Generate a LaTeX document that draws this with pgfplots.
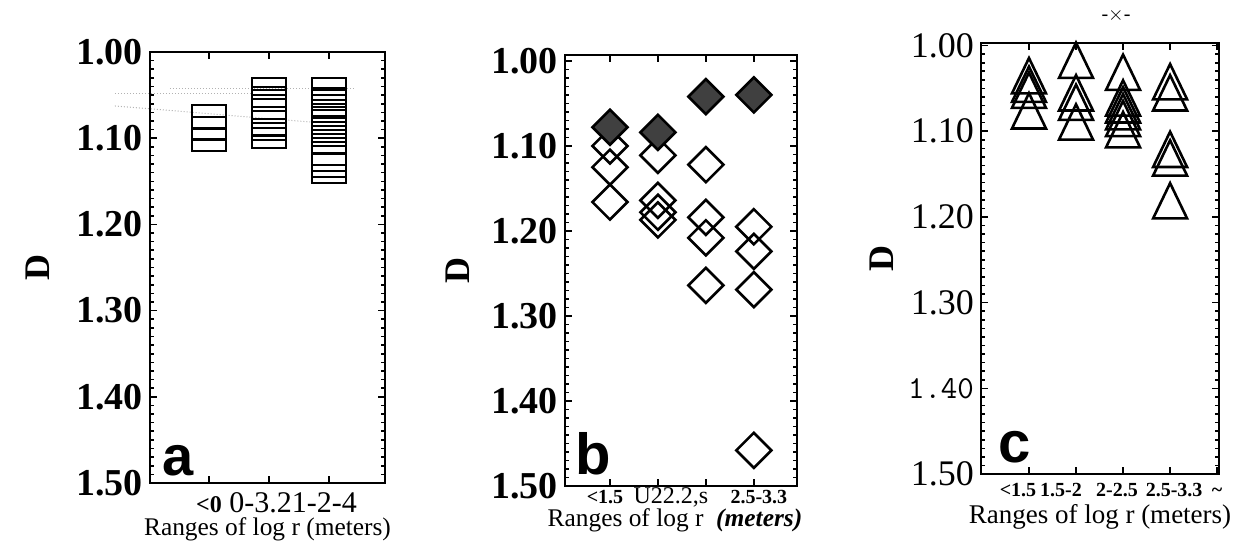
\documentclass[border=0pt]{standalone}
\usepackage{pgfplots}
\pgfplotsset{compat=1.18}
\usepackage{fontspec}
\setmainfont{Liberation Serif}
\newfontfamily\lsans{Liberation Sans}

\pgfplotsset{
  panel/.style={
    scale only axis, y dir=reverse, clip=false,
    ymax=1.50,
    ytick={1.00,1.10,1.20,1.30,1.40,1.50},
    minor y tick num=9,
    major tick length=3.5pt, minor tick length=1.8pt,
    axis line style={line width=1.2pt},
    every tick/.style={black, line width=0.8pt},
    xticklabel style={anchor=base},
    xlabel style={anchor=center},
  },
}
\tikzset{dlab/.style={rotate=90, inner sep=0pt, font=\bfseries\fontsize{18}{18}\selectfont}}

\begin{document}
\begin{tikzpicture}
\useasboundingbox (0,0) rectangle (623.5pt,276.5pt);

% ---------------- panel a ----------------
\begin{axis}[panel,
  at={(75pt,35pt)}, anchor=south west, width=117.5pt, height=215.5pt,
  xmin=0.017, xmax=3.93, ymin=1.00,
  xtick={1,2,3},
  xticklabels={{\bfseries\fontsize{12}{12}\selectfont <0},{\fontsize{15}{15}\selectfont\hspace*{24pt}0-3.21-2-4},{}},
  xticklabel style={yshift=-14.5pt},
  yticklabels={1.00,1.10,1.20,1.30,1.40,1.50},
  yticklabel style={font=\bfseries\fontsize{19}{19}\selectfont},
  xlabel={Ranges of log r (meters)},
  xlabel style={at={(axis description cs:0.5,-0.108)}, font=\fontsize{12.7}{12.7}\selectfont},
]
\addplot[gray!60, densely dotted, line width=0.5pt] coordinates {(-0.567,1.0626)(2.683,1.0812)};
\addplot[gray!60, densely dotted, line width=0.5pt] coordinates {(0.35,1.0418)(3.433,1.0418)};
\addplot[gray!60, densely dotted, line width=0.5pt] coordinates {(-0.567,1.0487)(1.683,1.0487)};
\addplot[only marks, mark=square, mark size=3pt, mark options={xscale=2.83, line width=1pt, black}]
  coordinates {(1,1.0684)(1,1.0824)(1,1.0951)(1,1.1079)
               (2,1.0371)(2,1.0476)(2,1.0568)(2,1.0708)(2,1.0754)(2,1.0893)(2,1.0951)(2,1.1044)
               (3,1.0371)(3,1.0487)(3,1.0568)(3,1.0673)(3,1.0742)(3,1.0835)(3,1.0928)(3,1.1021)
               (3,1.1114)(3,1.1241)(3,1.1381)(3,1.1450)};
\node[font=\lsans\bfseries\fontsize{28}{28}\selectfont, inner sep=0pt] at (axis description cs:0.119,0.051) {a};
\node[dlab] at (axis description cs:-0.477,0.5) {D};
\end{axis}

% ---------------- panel b ----------------
\begin{axis}[panel,
  at={(282.5pt,33.5pt)}, anchor=south west, width=116pt, height=215.5pt,
  xmin=0.0625, xmax=4.9, ymin=0.993,
  xtick={1,2,3,4},
  xticklabels={{\bfseries\fontsize{10}{10}\selectfont <1.5\hspace*{5pt}},{\fontsize{12}{12}\selectfont\hspace*{13pt}U22.2,s},{},{\bfseries\fontsize{10}{10}\selectfont\hspace*{5pt}2.5-3.3}},
  xticklabel style={yshift=-8.5pt},
  yticklabels={1.00,1.10,1.20,1.30,1.40,1.50},
  yticklabel style={font=\bfseries\fontsize{19}{19}\selectfont},
  xlabel={Ranges of log r\ \ \textbf{\textit{(meters)}}},
  xlabel style={at={(axis description cs:0.474,-0.08)}, font=\fontsize{12.7}{12.7}\selectfont},
]
\addplot[only marks, mark=square, mark size=6.2pt, mark options={rotate=45, line width=1.3pt, black}]
  coordinates {(1,1.100)(1,1.125)(1,1.166)
               (2,1.111)(2,1.164)(2,1.178)(2,1.187)
               (3,1.122)(3,1.184)(3,1.208)(3,1.264)
               (4,1.195)(4,1.224)(4,1.269)(4,1.458)};
\addplot[only marks, mark=square*, mark size=6.2pt, mark options={rotate=45, line width=1.3pt, draw=black, fill=black!75}]
  coordinates {(1,1.078)(2,1.084)(3,1.042)(4,1.040)};
\node[font=\lsans\bfseries\fontsize{29}{29}\selectfont, inner sep=0pt] at (axis description cs:0.121,0.074) {b};
\node[dlab] at (axis description cs:-0.461,0.5) {D};
\end{axis}

% ---------------- panel c ----------------
\begin{axis}[panel,
  at={(490.5pt,39.5pt)}, anchor=south west, width=119pt, height=215.5pt,
  xmin=-0.02, xmax=5.04, ymin=0.997,
  xtick={1,2,3,4,5},
  xticklabels={{<1.5\hspace*{11pt}},{1.5-2\hspace*{15pt}},{2-2.5\hspace*{6pt}},{\hspace*{4pt}2.5-3.3},{\textasciitilde}},
  xticklabel style={yshift=-11pt, font=\bfseries\fontsize{10}{10}\selectfont},
  yticklabels={1.00,1.10,1.20,1.30,{\ttfamily\fontsize{16}{16}\selectfont 1.40},1.50},
  yticklabel style={font=\fontsize{18}{18}\selectfont},
  xlabel={Ranges of log r (meters)},
  xlabel style={at={(axis description cs:0.5,-0.1)}, font=\fontsize{13.5}{13.5}\selectfont},
]
\addplot[only marks, mark=triangle, mark size=9.8pt, mark options={yscale=1.2, line width=1.3pt, black}]
  coordinates {(1,1.042)(1,1.052)(1,1.059)(1,1.083)
               (2,1.024)(2,1.062)(2,1.073)(2,1.096)
               (3,1.038)(3,1.068)(3,1.076)(3,1.084)(3,1.092)(3,1.105)
               (4,1.049)(4,1.062)(4,1.128)(4,1.138)(4,1.188)};
\node[font=\lsans\bfseries\fontsize{29}{29}\selectfont, inner sep=0pt] at (axis description cs:0.143,0.063) {c};
\node[dlab] at (axis description cs:-0.416,0.5) {D};
\node[font=\fontsize{10}{10}\selectfont, inner sep=0pt] at (axis cs:2.85,0.965) {-$\times$-};
\end{axis}
\end{tikzpicture}
\end{document}
